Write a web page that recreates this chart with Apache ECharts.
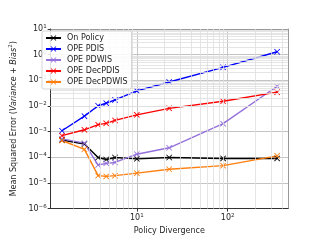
<!DOCTYPE html>
<html><head><meta charset="utf-8">
<script src="https://cdn.jsdelivr.net/npm/echarts@6/dist/echarts.min.js"></script>
<style>html,body{margin:0;padding:0;background:#fff}#c{width:320px;height:240px}</style>
</head><body><div id="c"></div>
<script>
const policyDivergence = [1.5, 2.65, 3.75, 4.6, 5.75, 10, 22.7, 89, 350];
const onPolicy = [4.7e-4, 3.3e-4, 9.8e-5, 8.2e-5, 9.8e-5, 8.7e-5, 9.8e-5, 9.0e-5, 9.0e-5];
const opePDIS = [1.08e-3, 4.0e-3, 1.02e-2, 1.28e-2, 1.72e-2, 3.9e-2, 8.6e-2, 0.32, 1.30];
const opePDWIS = [5.2e-4, 3.55e-4, 5.0e-5, 5.8e-5, 6.3e-5, 1.32e-4, 2.35e-4, 2.04e-3, 5.85e-2];
const opeDecPDIS = [6.97e-4, 1.18e-3, 1.87e-3, 2.1e-3, 2.73e-3, 4.5e-3, 8.1e-3, 1.53e-2, 3.46e-2];
const opeDecPDWIS = [4.5e-4, 2.04e-4, 1.92e-5, 1.80e-5, 1.92e-5, 2.41e-5, 3.42e-5, 4.73e-5, 1.14e-4];
const seriesNames = ['On Policy', 'OPE PDIS', 'OPE PDWIS', 'OPE DecPDIS', 'OPE DecPDWIS'];
const seriesValues = [onPolicy, opePDIS, opePDWIS, opeDecPDIS, opeDecPDWIS];
const seriesColors = ['#000000', '#0000ff', '#9370db', '#ff0000', '#ff7f0e'];

const xMin = 1.127, xMax = 461, yMin = 1e-6, yMax = 10;
const FONT = 'DejaVu Sans';
const X_SYMBOL = 'path://M0,1L1,0L5,4L9,0L10,1L6,5L10,9L9,10L5,6L1,10L0,9L4,5Z';

function supFmt(v) {
  const e = Math.log10(v);
  const r = Math.round(e);
  if (Math.abs(e - r) > 1e-6) return '';
  return '{b|10}{s|' + String(r).replace('-', '\u2212') + '}';
}
const rich = { b: { fontSize: 8, fontFamily: FONT, color: '#262626' }, s: { fontSize: 5.5, fontFamily: FONT, color: '#262626', verticalAlign: 'top', padding: [0, 0, 5, 0] } };

const minorX = [], minorY = [];
for (let n = 0; n <= 2; n++) for (let k = 2; k <= 9; k++) { const v = k * Math.pow(10, n); if (v > xMin && v < xMax) minorX.push({ xAxis: v }); }
for (let n = -6; n <= 0; n++) for (let k = 2; k <= 9; k++) minorY.push({ yAxis: k * Math.pow(10, n) });

const series = seriesNames.map((name, i) => ({
  name, type: 'line', data: policyDivergence.map((x, j) => [x, seriesValues[i][j]]),
  symbol: X_SYMBOL, symbolSize: 6, showSymbol: true,
  lineStyle: { color: seriesColors[i], width: 1.4 },
  itemStyle: { color: seriesColors[i] }, z: 3, animation: false
}));
series.unshift({
  type: 'line', data: [], silent: true, animation: false, z: 1,
  markLine: { silent: true, symbol: 'none', label: { show: false }, animation: false,
    lineStyle: { color: '#dedede', width: 0.8, type: 'solid' },
    data: minorX.concat(minorY) }
});

const chart = echarts.init(document.getElementById('c'), null, { renderer: 'canvas' });
chart.setOption({
  backgroundColor: '#fff',
  animation: false,
  grid: { left: 40, right: 32, top: 29, bottom: 27 },
  legend: {
    data: seriesNames, orient: 'vertical', left: 42, top: 31, z: 50, zlevel: 1,
    itemWidth: 15, itemHeight: 7, itemGap: 3, padding: [3, 4, 3, 3],
    backgroundColor: 'rgba(255,255,255,0.85)', borderColor: '#cccccc', borderWidth: 0.8, borderRadius: 2,
    textStyle: { fontSize: 8, fontFamily: FONT, color: '#262626', padding: [0, 0, 0, 1] }
  },
  xAxis: [{
    type: 'log', logBase: 10, min: xMin, max: xMax,
    name: 'Policy Divergence', nameLocation: 'middle', nameGap: 14,
    nameTextStyle: { fontSize: 8, fontFamily: FONT, color: '#262626' },
    axisLine: { show: true, lineStyle: { color: '#333', width: 1 } },
    axisTick: { show: true, length: 3, lineStyle: { color: '#333' }, inside: false },
    axisLabel: { formatter: supFmt, rich, margin: 4, showMinLabel: false, showMaxLabel: false },
    splitLine: { show: true, lineStyle: { color: '#c4c4c4', width: 1 } }
  }, {
    type: 'log', logBase: 10, min: xMin, max: xMax, position: 'top',
    axisLine: { show: true, lineStyle: { color: '#999', width: 1 } },
    axisTick: { show: false }, axisLabel: { show: false }, splitLine: { show: false }
  }],
  yAxis: [{
    type: 'log', logBase: 10, min: yMin, max: yMax, interval: 1,
    name: 'Mean Squared Error ({i|Variance} + {i|Bias}{s|2})', nameLocation: 'middle', nameGap: 26,
    nameTextStyle: { fontSize: 8, fontFamily: FONT, color: '#262626',
      rich: { i: { fontStyle: 'italic', fontSize: 8, fontFamily: FONT, color: '#262626' }, s: { fontSize: 5.5, fontFamily: FONT, color: '#262626', verticalAlign: 'top', padding: [0, 0, 5, 0] } } },
    axisLine: { show: true, lineStyle: { color: '#333', width: 1 } },
    axisTick: { show: true, length: 3, lineStyle: { color: '#333' } },
    axisLabel: { formatter: supFmt, rich, margin: 4 },
    splitLine: { show: true, lineStyle: { color: '#c4c4c4', width: 1 } }
  }, {
    type: 'log', logBase: 10, min: yMin, max: yMax, position: 'right',
    axisLine: { show: true, lineStyle: { color: '#999', width: 1 } },
    axisTick: { show: false }, axisLabel: { show: false }, splitLine: { show: false }
  }],
  series
});
</script></body></html>
